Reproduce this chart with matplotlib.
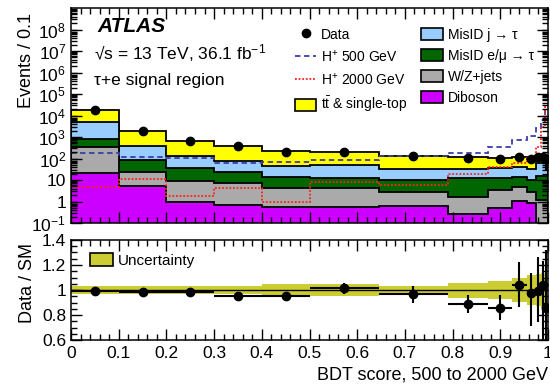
import matplotlib
matplotlib.use("Agg")
import matplotlib.pyplot as plt
import numpy as np
from matplotlib.lines import Line2D
from matplotlib.patches import Patch
from matplotlib.ticker import FixedLocator, MultipleLocator, LogLocator, NullFormatter, FuncFormatter

plt.rcParams['font.family'] = ['Liberation Sans', 'DejaVu Sans']
plt.rcParams['mathtext.fontset'] = 'custom'
plt.rcParams['mathtext.rm'] = 'Liberation Sans'
plt.rcParams['mathtext.it'] = 'Liberation Sans:italic'
plt.rcParams['mathtext.bf'] = 'Liberation Sans:bold'

# binning of the BDT score
edges = [0, 0.1, 0.2, 0.3, 0.4, 0.5, 0.645, 0.79, 0.875, 0.925, 0.955, 0.975, 0.985, 0.993, 1.0]

# backgrounds, events / 0.1
diboson = [21, 5.0, 0.9, 0.72, 0.58, 0.58, 0.65, 0.25, 0.52, 1.1, 0.83, 0.02, 0.02, 0.02]
wzjets = [325, 18, 7.8, 6.3, 3.5, 3.6, 2.25, 1.3, 2.8, 3.4, 1.9, 1.1, 1.1, 1.1]
misid_lep = [465, 61, 26, 16, 9.3, 8.2, 6.8, 10.5, 8.7, 8.9, 7.0, 15, 15, 15]
misid_jet = [4290, 296, 95, 52, 31, 37, 24, 20, 23, 26.6, 24, 44, 44, 44]
ttbar = [13600, 1550, 530, 305, 176, 156, 101, 85, 70, 77, 66, 56, 56, 56]

data = [18590, 1905, 647, 363, 210, 208, 130, 104, 90, 122, 97, 115, 121, 99]

# signal hypotheses
hp500 = [180, 120, 108, 65, 70, 84, 130, 180, 340, 750, 1100, 2700, 6300, 19000]
hp2000 = [4.5, 10.8, 1.9, 4.1, 0.9, 8.1, 6.1, 20, 39, 60, 105, 340, 3000, 26000]

# ratio errors and total uncertainty band (relative)
ratio_err_lo = [0.008, 0.012, 0.02, 0.03, 0.035, 0.045, 0.07, 0.075, 0.1, 0.18, 0.26, 0.25, 0.44, 0.6]
ratio_err_hi = [0.008, 0.012, 0.02, 0.03, 0.035, 0.045, 0.07, 0.075, 0.1, 0.18, 0.16, 0.27, 0.19, 0.47]
syst_unc = [0.035, 0.035, 0.035, 0.035, 0.05, 0.05, 0.035, 0.06, 0.075, 0.095, 0.12, 0.13, 0.14, 0.14]

edges = np.array(edges)
centers = 0.5 * (edges[1:] + edges[:-1])
halfw = 0.5 * (edges[1:] - edges[:-1])

layers = [diboson, wzjets, misid_lep, misid_jet, ttbar]
colors = ['#cc00ff', '#aaaaaa', '#006600', '#99ccff', '#ffff00']
cum = np.cumsum(np.array(layers, dtype=float), axis=0)
total = cum[-1]
data = np.array(data)
ratio = data / total

fig = plt.figure(figsize=(5.5, 3.84), dpi=100)
ax1 = fig.add_axes([71 / 550, 1 - 223 / 384, 477 / 550, 215 / 384])
ax2 = fig.add_axes([71 / 550, 1 - 340 / 384, 477 / 550, 100 / 384])

# stacked backgrounds, drawn from the total down
for c, col in zip(cum[::-1], colors[::-1]):
    ax1.stairs(c, edges, baseline=1e-3, fill=True, facecolor=col, edgecolor='k', linewidth=1.3)

ax1.stairs(hp500, edges, baseline=None, color='#3d3da8', linestyle=(0, (3, 2)), linewidth=1.3)
ax1.stairs(hp2000, edges, baseline=None, color='#ff2020', linestyle=(0, (1, 1)), linewidth=1.3)

ax1.errorbar(centers, data, yerr=[np.array(ratio_err_lo) * total, np.array(ratio_err_hi) * total],
             fmt='o', color='k', ms=6, elinewidth=1.5, capsize=0)

ax1.set_yscale('log')
ax1.set_ylim(0.1, 1e9)
ax1.set_xlim(0, 1)


def log_label(v, pos):
    e = int(round(np.log10(v)))
    if e == 0:
        return '1'
    if e == 1:
        return '10'
    return r'$10^{%d}$' % e


ax1.yaxis.set_major_locator(FixedLocator([10.0 ** k for k in range(-1, 9)]))
ax1.yaxis.set_major_formatter(FuncFormatter(log_label))
ax1.yaxis.set_minor_locator(LogLocator(base=10, subs=np.arange(2, 10), numticks=20))
ax1.yaxis.set_minor_formatter(NullFormatter())
ax1.xaxis.set_major_locator(MultipleLocator(0.1))
ax1.xaxis.set_minor_locator(MultipleLocator(0.02))
ax1.tick_params(labelbottom=False)

# ratio panel
ax2.stairs(1 + np.array(syst_unc), edges, baseline=1 - np.array(syst_unc), fill=True,
           color='#cccc33', linewidth=0)
ax2.axhline(1, color='k', lw=1)
ax2.errorbar(centers, ratio, xerr=halfw, yerr=[ratio_err_lo, ratio_err_hi],
             fmt='o', color='k', ms=6, elinewidth=1.5, capsize=0)
ax2.set_xlim(0, 1)
ax2.set_ylim(0.6, 1.4)
ax2.yaxis.set_major_locator(FixedLocator([0.6, 0.8, 1.0, 1.2, 1.4]))
ax2.yaxis.set_major_formatter(FuncFormatter(lambda v, p: '%g' % round(v, 1)))
ax2.yaxis.set_minor_locator(MultipleLocator(0.05))
ax2.xaxis.set_major_locator(MultipleLocator(0.1))
ax2.xaxis.set_major_formatter(FuncFormatter(lambda v, p: '%g' % round(v, 1)))
ax2.xaxis.set_minor_locator(MultipleLocator(0.02))

for ax in (ax1, ax2):
    ax.tick_params(which='both', direction='in', top=True, right=True, labelsize=12.5, width=1)
    ax.tick_params(which='major', length=8)
    ax.tick_params(which='minor', length=4)
    for s in ax.spines.values():
        s.set_linewidth(1.1)
ax2.tick_params(axis='x', pad=4)

fig.text(27 / 550, 1 - 61 / 384, 'Events / 0.1', rotation=90, ha='center', va='center', fontsize=13)
fig.text(27 / 550, 1 - 283 / 384, 'Data / SM', rotation=90, ha='center', va='center', fontsize=13)
fig.text(548 / 550, 1 - 375 / 384, 'BDT score, 500 to 2000 GeV', ha='right', va='center', fontsize=13)

fig.text(97 / 550, 1 - 27 / 384, 'ATLAS', fontsize=15, fontweight='bold', fontstyle='italic', va='center')
fig.text(94 / 550, 1 - 53 / 384, '\u221as = 13 TeV, 36.1 fb$^{-1}$', fontsize=12.5, va='center')
fig.text(94 / 550, 1 - 80 / 384, '\u03c4+e signal region', fontsize=12.5, va='center')

handles = [
    Line2D([], [], marker='o', color='k', ls='none', ms=6),
    Line2D([], [], color='#3d3da8', ls=(0, (3, 2)), lw=1.3),
    Line2D([], [], color='#ff2020', ls=(0, (1, 1)), lw=1.3),
    Patch(facecolor=colors[4], edgecolor='k', lw=1.2),
    Patch(facecolor=colors[3], edgecolor='k', lw=1.2),
    Patch(facecolor=colors[2], edgecolor='k', lw=1.2),
    Patch(facecolor=colors[1], edgecolor='k', lw=1.2),
    Patch(facecolor=colors[0], edgecolor='k', lw=1.2),
]
labels = ['Data', 'H$^{+}$ 500 GeV', 'H$^{+}$ 2000 GeV', r'$\mathrm{t\bar{t}}$ & single-top',
          'MisID j \u2192 \u03c4', 'MisID e/\u03bc \u2192 \u03c4', 'W/Z+jets', 'Diboson']
ax1.legend(handles, labels, ncol=2, loc='upper left', bbox_to_anchor=(288 / 550, 1 - 21 / 384),
           bbox_transform=fig.transFigure, frameon=False, fontsize=10, borderpad=0,
           handlelength=1.55, handleheight=1.0, handletextpad=0.35, labelspacing=0.5,
           columnspacing=1.0)

ax2.legend([Patch(facecolor='#cccc33', edgecolor='k', lw=1.2)], ['Uncertainty'], loc='upper left',
           bbox_to_anchor=(82 / 550, 1 - 245 / 384), bbox_transform=fig.transFigure, frameon=False,
           fontsize=11, borderpad=0, handlelength=1.5, handleheight=1.0, handletextpad=0.35)

fig.savefig('out.png', dpi=100)
